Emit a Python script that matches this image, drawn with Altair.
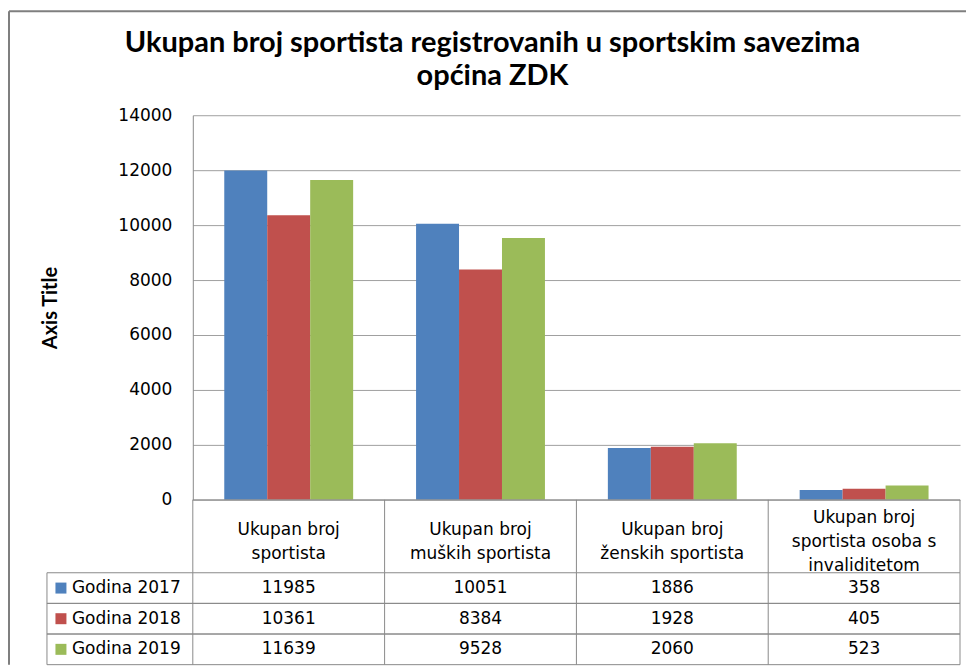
import altair as alt
import pandas as pd

# ---- data ----
categories = [
    "Ukupan broj sportista",
    "Ukupan broj muških sportista",
    "Ukupan broj ženskih sportista",
    "Ukupan broj sportista osoba s invaliditetom",
]
category_labels = [
    "Ukupan broj\nsportista",
    "Ukupan broj\nmuških sportista",
    "Ukupan broj\nženskih sportista",
    "Ukupan broj\nsportista  osoba s\ninvaliditetom",
]
series = ["Godina 2017", "Godina 2018", "Godina 2019"]
values_2017 = [11985, 10051, 1886, 358]
values_2018 = [10361, 8384, 1928, 405]
values_2019 = [11639, 9528, 2060, 523]
colors = ["#4F81BD", "#C0504D", "#9BBB59"]
y_ticks = [0, 2000, 4000, 6000, 8000, 10000, 12000, 14000]
title_text = "Ukupan broj sportista registrovanih u sportskim savezima\nopćina ZDK"
axis_title = "Axis Title"

rows = []
for s, vals in zip(series, [values_2017, values_2018, values_2019]):
    for c, v in zip(categories, vals):
        rows.append({"cat": c, "series": s, "value": v})
df = pd.DataFrame(rows)
hdr = pd.DataFrame({"cat": categories, "label": category_labels,
                    "nlines": [lab.count("\n") + 1 for lab in category_labels]})
ser = pd.DataFrame({"series": series})
one = pd.DataFrame({"t": [title_text]})

W = 768
H = 385
HH = 73
RH = 92
FONT = "DejaVu Sans"
LINE = "#8a8a8a"
LH = 24

cat_band = alt.Scale(domain=categories, paddingInner=0.328, paddingOuter=0.164)
cat_cell = alt.Scale(domain=categories, paddingInner=0, paddingOuter=0)
ser_color = alt.Scale(domain=series, range=colors)

bars = alt.Chart(df).mark_bar().encode(
    x=alt.X("cat:N", scale=cat_band, sort=categories, axis=None),
    xOffset=alt.XOffset("series:N", sort=series,
                        scale=alt.Scale(domain=series, paddingInner=0, paddingOuter=0)),
    y=alt.Y("value:Q", scale=alt.Scale(domain=[0, 14000], nice=False),
            axis=alt.Axis(values=y_ticks, format="d", title=axis_title,
                          grid=True, gridColor="#a0a0a0", gridWidth=1,
                          domain=True, domainColor=LINE, domainWidth=1,
                          ticks=False, tickSize=0, labelPadding=21,
                          labelFont=FONT, labelFontSize=17, labelColor="#000000",
                          titleFont="Lato", titleFontSize=20, titleFontWeight="bold",
                          titleColor="#000000", titleAngle=-90, titleAlign="center",
                          titleBaseline="middle", titleX=-142, titleY=H / 2)),
    color=alt.Color("series:N", scale=ser_color, legend=None),
)

title_mark = alt.Chart(one).mark_text(
    font="Lato", fontSize=29, fontWeight="bold", color="#000000",
    align="center", baseline="alphabetic", lineBreak="\n", lineHeight=33,
).encode(x=alt.value(300), y=alt.value(-63), text="t:N")

frame_left = alt.Chart(one).mark_rule(color="#7f7f7f", strokeWidth=2).encode(
    x=alt.value(-184), y=alt.value(-104), y2=alt.value(H + HH + RH))
frame_top = alt.Chart(one).mark_rule(color="#7f7f7f", strokeWidth=2).encode(
    x=alt.value(-184), x2=alt.value(774), y=alt.value(-104))

top = alt.layer(bars, title_mark, frame_left, frame_top).properties(width=W, height=H)

# ---- header row of the data table ----
def hdr_layer(n):
    return alt.Chart(hdr).transform_filter(alt.datum.nlines == n).mark_text(
        font=FONT, fontSize=17, color="#000000", align="center", baseline="middle",
        lineBreak="\n", lineHeight=LH,
    ).encode(x=alt.X("cat:N", scale=cat_cell, sort=categories, axis=None),
             y=alt.value(41.5 - (n - 1) * (LH - 1) / 2), text="label:N")

hdr_vlines = alt.Chart(hdr).mark_rule(color=LINE, strokeWidth=1).encode(
    x=alt.X("cat:N", scale=cat_cell, sort=categories, axis=None, bandPosition=0))
hdr_right = alt.Chart(one).mark_rule(color=LINE, strokeWidth=1).encode(
    x=alt.value(W), y=alt.value(0), y2=alt.value(HH))
hdr_top = alt.Chart(one).mark_rule(color=LINE, strokeWidth=1).encode(
    x=alt.value(0), x2=alt.value(W), y=alt.value(0))
header = alt.layer(hdr_layer(2), hdr_layer(3), hdr_vlines, hdr_right, hdr_top).properties(
    width=W, height=HH)

# ---- value rows ----
ser_scale = alt.Scale(domain=series, paddingInner=0, paddingOuter=0)
val_text = alt.Chart(df).mark_text(
    font=FONT, fontSize=17, color="#000000", align="center", baseline="middle",
).encode(x=alt.X("cat:N", scale=cat_cell, sort=categories, axis=None),
         y=alt.Y("series:N", scale=ser_scale, sort=series, axis=None),
         text="value:Q")
keys = alt.Chart(ser).mark_square(size=121, opacity=1).encode(
    x=alt.value(-132),
    y=alt.Y("series:N", scale=ser_scale, sort=series, axis=None),
    color=alt.Color("series:N", scale=ser_color, legend=None))
key_text = alt.Chart(ser).mark_text(
    font=FONT, fontSize=17, color="#000000", align="left", baseline="middle",
).encode(x=alt.value(-121),
         y=alt.Y("series:N", scale=ser_scale, sort=series, axis=None),
         text="series:N")
h_top = alt.Chart(ser).mark_rule(color=LINE, strokeWidth=1).encode(
    x=alt.value(-146), x2=alt.value(W),
    y=alt.Y("series:N", scale=ser_scale, sort=series, axis=None, bandPosition=0))
h_bot = alt.Chart(ser).mark_rule(color=LINE, strokeWidth=1).encode(
    x=alt.value(-146), x2=alt.value(W),
    y=alt.Y("series:N", scale=ser_scale, sort=series, axis=None, bandPosition=1))
v_cells = alt.Chart(hdr).mark_rule(color=LINE, strokeWidth=1).encode(
    x=alt.X("cat:N", scale=cat_cell, sort=categories, axis=None, bandPosition=0))
v_right = alt.Chart(one).mark_rule(color=LINE, strokeWidth=1).encode(
    x=alt.value(W), y=alt.value(0), y2=alt.value(RH))
v_left = alt.Chart(one).mark_rule(color=LINE, strokeWidth=1).encode(
    x=alt.value(-146), y=alt.value(0), y2=alt.value(RH))
table = alt.layer(val_text, keys, key_text, h_top, h_bot, v_cells, v_right, v_left).properties(
    width=W, height=RH)

chart = alt.vconcat(top, header, table, spacing=0, bounds="flush").properties(
    padding={"left": 0, "top": 2, "right": 0, "bottom": 0},
).configure_view(stroke=None).resolve_scale(color="shared")

chart.save("out.html", embed_options={"renderer": "svg", "actions": False})
